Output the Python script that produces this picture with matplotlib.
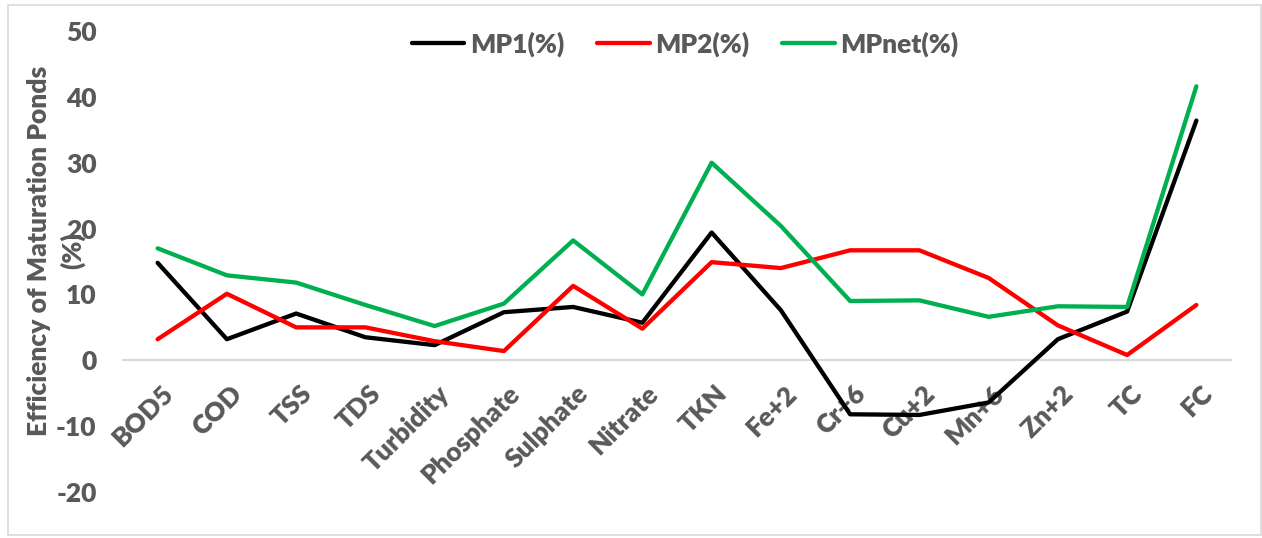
import matplotlib
matplotlib.use("Agg")
import matplotlib.pyplot as plt
from matplotlib.patches import Rectangle
from matplotlib.transforms import ScaledTranslation

categories = ["BOD5", "COD", "TSS", "TDS", "Turbidity", "Phosphate", "Sulphate",
              "Nitrate", "TKN", "Fe+2", "Cr+6", "Cu+2", "Mn+6", "Zn+2", "TC", "FC"]
mp1 = [14.8, 3.2, 7.1, 3.5, 2.3, 7.3, 8.1, 5.7, 19.4, 7.6, -8.2, -8.3, -6.4, 3.2, 7.4, 36.4]
mp2 = [3.2, 10.1, 5.0, 5.0, 2.9, 1.4, 11.3, 4.8, 14.9, 14.0, 16.7, 16.7, 12.5, 5.3, 0.8, 8.4]
mpnet = [17.0, 12.9, 11.8, 8.4, 5.2, 8.6, 18.2, 10.0, 30.0, 20.4, 9.0, 9.1, 6.6, 8.2, 8.1, 41.6]
series_names = ["MP1(%)", "MP2(%)", "MPnet(%)"]
y_ticks = [-20, -10, 0, 10, 20, 30, 40, 50]

text_gray = "#595959"
plt.rcParams["font.family"] = ["Lato", "DejaVu Sans"]
weight = "heavy"
fs = 19

W, H = 1262, 538
fig = plt.figure(figsize=(W / 100, H / 100), dpi=100)
fig.patches.append(Rectangle((8 / W, 3 / H), (W - 9) / W, (H - 8) / H,
                             transform=fig.transFigure, fill=False,
                             edgecolor="#d9d9d9", linewidth=1.2))

ax = fig.add_axes([123 / W, 1 - 492 / H, (1231 - 123) / W, (492 - 31) / H])
x = list(range(len(categories)))
colors = ["#000000", "#ff0000", "#00b050"]
for vals, name, c in zip([mp1, mp2, mpnet], series_names, colors):
    ax.plot(x, vals, color=c, linewidth=3.1, label=name, solid_capstyle="round",
            solid_joinstyle="round")

ax.set_xlim(-0.5, len(categories) - 0.5)
ax.set_ylim(-20, 50)
ax.set_yticks(y_ticks)
ax.set_yticklabels([str(v) for v in y_ticks], fontsize=fs, fontweight=weight, color=text_gray)

# horizontal axis line sits at zero
for name, s in ax.spines.items():
    s.set_visible(name == "bottom")
ax.spines["bottom"].set_position(("data", 0))
ax.spines["bottom"].set_color("#d9d9d9")
ax.spines["bottom"].set_linewidth(1.5)
ax.spines["bottom"].set_zorder(0)

ax.tick_params(axis="y", length=0, pad=19)
ax.tick_params(axis="x", length=0, pad=0)
ax.set_xticks(x)
ax.set_xticklabels(categories, rotation=45, ha="right", va="top",
                   rotation_mode="anchor", fontsize=fs, fontweight=weight, color=text_gray)
shift = ScaledTranslation(0.03, -0.21, fig.dpi_scale_trans)
for lbl in ax.get_xticklabels():
    lbl.set_transform(lbl.get_transform() + shift)

fig.text(56 / W, 1 - 251 / H, "Efficiency of Maturation Ponds\n(%)", rotation=90,
         ha="center", va="center", fontsize=fs, fontweight=weight, color=text_gray,
         linespacing=1.4)

leg = ax.legend(loc="center", bbox_to_anchor=(685 / W, 1 - 44 / H),
                bbox_transform=fig.transFigure, ncol=3, frameon=False,
                prop={"size": fs, "weight": weight}, handlelength=2.0, handletextpad=0.2,
                columnspacing=1.25)
for t in leg.get_texts():
    t.set_color(text_gray)

fig.savefig("out.png", dpi=100)
